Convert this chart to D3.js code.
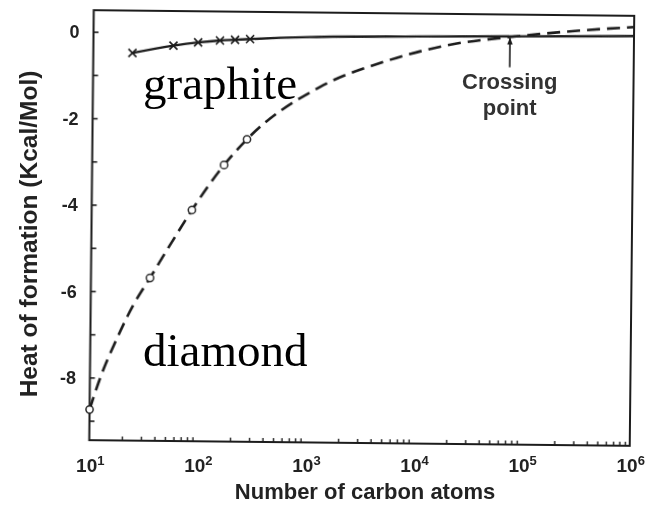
<!DOCTYPE html>
<html>
<head>
<meta charset="utf-8">
<script src="https://cdn.jsdelivr.net/npm/d3@7"></script>
<style>
  body { margin: 0; background: #fff; }
  svg { display: block; }
</style>
</head>
<body>
<svg id="chart" width="649" height="506"></svg>
<script>
// Graphite clusters: measured points (crosses)
const graphiteN = [23, 55, 93, 148, 204, 281];
const graphiteH = [-0.48, -0.30, -0.22, -0.17, -0.15, -0.13];
// Graphite trend line, running on towards bulk size
const graphiteLineN = [23, 55, 93, 148, 204, 281, 1000, 10000, 100000, 1000000];
const graphiteLineH = [-0.48, -0.30, -0.22, -0.17, -0.15, -0.13, -0.07, -0.03, 0.0, 0.03];

// Diamond clusters: measured points (open circles)
const diamondN = [10, 35.2, 84.7, 166, 269];
const diamondH = [-8.74, -5.68, -4.10, -3.05, -2.45];
// Diamond trend line (dashed)
const diamondLineN = [10, 12.4, 17.7, 24.6, 35.2, 57, 84.7, 166, 269, 1262, 5224, 21200, 71300, 367000, 1000000];
const diamondLineH = [-8.74, -8.02, -7.08, -6.33, -5.68, -4.80, -4.10, -3.05, -2.45, -1.22, -0.60, -0.20, -0.02, 0.16, 0.24];

// Where the two curves meet
const crossingN = 71300;
const crossingArrowH = [-0.72, -0.05];

// Axis ticks
const yTickValues = [0, -2, -4, -6, -8];
const yMinorTicks = [0, -1, -2, -3, -4, -5, -6, -7, -8, -9];
const xDecades = [1, 2, 3, 4, 5, 6];

const svg = d3.select("#chart");
const frame = { left: 91.5, right: 632, top: 13, bottom: 443 };
const tilt = 0.6;
const cx = (frame.left + frame.right) / 2, cy = (frame.top + frame.bottom) / 2;
const rad = tilt * Math.PI / 180;
function rot(px, py) {
  const dx = px - cx, dy = py - cy;
  return [cx + dx * Math.cos(rad) - dy * Math.sin(rad), cy + dx * Math.sin(rad) + dy * Math.cos(rad)];
}

const x = d3.scaleLog().domain([10, 1e6]).range([frame.left, frame.right]);
const y = d3.scaleLinear().domain([-9.45, 0.5]).range([frame.bottom, frame.top]);

const ink = "#1c1c1c";
const defs = svg.append("defs");
defs.append("filter").attr("id", "soft")
  .append("feGaussianBlur").attr("stdDeviation", 0.45);
defs.append("marker").attr("id", "arrowhead")
  .attr("viewBox", "0 0 10 10").attr("refX", 9).attr("refY", 5)
  .attr("markerWidth", 7).attr("markerHeight", 7).attr("orient", "auto-start-reverse")
  .attr("markerUnits", "userSpaceOnUse")
  .append("path").attr("d", "M0,1 L10,5 L0,9 Z").attr("fill", ink);

const plot = svg.append("g")
  .attr("transform", `rotate(${tilt},${cx},${cy})`)
  .attr("filter", "url(#soft)");

// Frame
plot.append("rect")
  .attr("x", frame.left).attr("y", frame.top)
  .attr("width", frame.right - frame.left).attr("height", frame.bottom - frame.top)
  .attr("fill", "none").attr("stroke", ink).attr("stroke-width", 2);

// Inward ticks on the left axis
const yAxis = d3.axisLeft(y).tickValues(yMinorTicks).tickSize(-5).tickFormat("");
plot.append("g").attr("transform", `translate(${frame.left},0)`).call(yAxis)
  .call(g => g.select(".domain").remove())
  .call(g => g.selectAll("line").attr("stroke", ink).attr("stroke-width", 1.6));

// Inward log ticks on the bottom axis
const xMinor = [];
xDecades.slice(0, -1).forEach(d => { for (let k = 2; k <= 9; k++) xMinor.push(k * Math.pow(10, d)); });
const xAxis = d3.axisBottom(x).tickValues(xMinor).tickSize(-4).tickFormat("");
plot.append("g").attr("transform", `translate(0,${frame.bottom})`).call(xAxis)
  .call(g => g.select(".domain").remove())
  .call(g => g.selectAll("line").attr("stroke", ink).attr("stroke-width", 1.4));

// Graphite solid line
const graphiteLine = graphiteLineN.map((n, i) => [n, graphiteLineH[i]]);
plot.append("path")
  .attr("d", d3.line().x(d => x(d[0])).y(d => y(d[1])).curve(d3.curveMonotoneX)(graphiteLine))
  .attr("fill", "none").attr("stroke", ink).attr("stroke-width", 2.4);

// Diamond dashed line
const diamondLine = diamondLineN.map((n, i) => [n, diamondLineH[i]]);
plot.append("path")
  .attr("d", d3.line().x(d => x(d[0])).y(d => y(d[1])).curve(d3.curveMonotoneX)(diamondLine))
  .attr("fill", "none").attr("stroke", ink).attr("stroke-width", 2.6)
  .attr("stroke-dasharray", "13,7");

// Graphite crosses
const s = 4;
plot.append("g").selectAll("path").data(graphiteN.map((n, i) => [n, graphiteH[i]])).join("path")
  .attr("d", d => {
    const px = x(d[0]), py = y(d[1]);
    return `M${px - s},${py - s}L${px + s},${py + s}M${px - s},${py + s}L${px + s},${py - s}`;
  })
  .attr("stroke", ink).attr("stroke-width", 1.6).attr("fill", "none");

// Diamond circles
plot.append("g").selectAll("circle").data(diamondN.map((n, i) => [n, diamondH[i]])).join("circle")
  .attr("cx", d => x(d[0])).attr("cy", d => y(d[1])).attr("r", 3.6)
  .attr("fill", "#fff").attr("stroke", ink).attr("stroke-width", 1.5);

// Crossing arrow
plot.append("line")
  .attr("x1", x(crossingN)).attr("x2", x(crossingN))
  .attr("y1", y(crossingArrowH[0])).attr("y2", y(crossingArrowH[1]))
  .attr("stroke", ink).attr("stroke-width", 1.6)
  .attr("marker-end", "url(#arrowhead)");

// Text layer
const labels = svg.append("g").attr("filter", "url(#soft)")
  .attr("font-family", "'Liberation Sans', Arial, Helvetica, sans-serif")
  .attr("font-weight", "bold").attr("fill", "#222");

// Y tick labels
yTickValues.forEach(v => {
  const [px, py] = rot(frame.left, y(v));
  labels.append("text").attr("x", px - 14).attr("y", py).attr("dy", "0.36em")
    .attr("text-anchor", "end").attr("font-size", 18)
    .text(v === 0 ? "0" : "-" + Math.abs(v));
});

// X tick labels: powers of ten
xDecades.forEach(d => {
  const [px] = rot(x(Math.pow(10, d)), frame.bottom);
  const t = labels.append("text").attr("x", px + 1).attr("y", 472)
    .attr("text-anchor", "middle").attr("font-size", 19);
  t.append("tspan").text("10");
  t.append("tspan").attr("font-size", 13).attr("dy", -7).text(String(d));
});

// Axis titles
labels.append("text").attr("x", 365).attr("y", 499).attr("text-anchor", "middle")
  .attr("font-size", 22).text("Number of carbon atoms");
labels.append("text").attr("transform", "translate(37,234) rotate(-90)")
  .attr("text-anchor", "middle").attr("font-size", 24.5).text("Heat of formation (Kcal/Mol)");

// Crossing annotation
const [ax] = rot(x(crossingN), y(crossingArrowH[0]));
labels.append("text").attr("x", ax).attr("y", 89).attr("text-anchor", "middle")
  .attr("font-size", 22).attr("fill", "#333").text("Crossing");
labels.append("text").attr("x", ax).attr("y", 114.5).attr("text-anchor", "middle")
  .attr("font-size", 22).attr("fill", "#333").text("point");

// Phase names
const serif = svg.append("g")
  .attr("font-family", "'Liberation Serif', 'Times New Roman', serif")
  .attr("font-size", 47).attr("fill", "#000");
serif.append("text").attr("x", 143).attr("y", 99).text("graphite");
serif.append("text").attr("x", 143).attr("y", 366).text("diamond");
</script>
</body>
</html>
